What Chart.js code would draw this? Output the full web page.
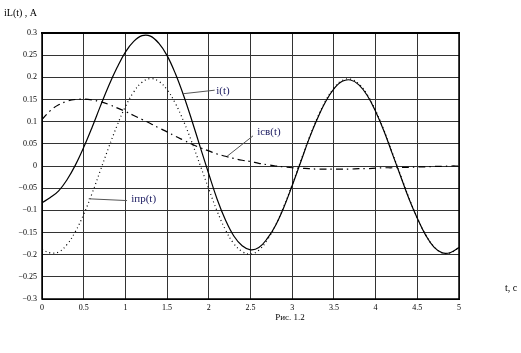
<!DOCTYPE html>
<html>
<head>
<meta charset="utf-8">
<script src="https://cdn.jsdelivr.net/npm/chart.js@4"></script>
<style>
html,body{margin:0;padding:0;background:#fff;}
canvas{display:block;}
</style>
</head>
<body>
<canvas id="c" width="521" height="353"></canvas>
<script>
const tValues = [0,0.1,0.2,0.3,0.4,0.5,0.6,0.7,0.8,0.9,1,1.1,1.2,1.3,1.4,1.5,1.6,1.7,1.8,1.9,2,2.1,2.2,2.3,2.4,2.5,2.6,2.7,2.8,2.9,3,3.1,3.2,3.3,3.4,3.5,3.6,3.7,3.8,3.9,4,4.1,4.2,4.3,4.4,4.5,4.6,4.7,4.8,4.9,5];
const iTotal = [-0.083,-0.071,-0.056,-0.031,0.002,0.042,0.087,0.135,0.181,0.222,0.257,0.281,0.294,0.293,0.277,0.249,0.208,0.158,0.101,0.041,-0.018,-0.075,-0.122,-0.158,-0.180,-0.189,-0.184,-0.164,-0.134,-0.093,-0.044,0.008,0.060,0.106,0.145,0.174,0.191,0.194,0.183,0.159,0.123,0.079,0.028,-0.023,-0.074,-0.118,-0.156,-0.183,-0.196,-0.195,-0.184];
const iForced = [-0.188,-0.196,-0.194,-0.177,-0.148,-0.109,-0.062,-0.010,0.042,0.091,0.134,0.167,0.189,0.197,0.191,0.172,0.141,0.100,0.052,0.000,-0.052,-0.102,-0.144,-0.175,-0.193,-0.199,-0.190,-0.167,-0.134,-0.091,-0.042,0.010,0.062,0.108,0.147,0.176,0.193,0.196,0.185,0.161,0.125,0.081,0.030,-0.021,-0.072,-0.117,-0.155,-0.182,-0.196,-0.196,-0.184];
const iFree = [0.105,0.125,0.138,0.146,0.150,0.151,0.149,0.145,0.139,0.131,0.123,0.114,0.105,0.096,0.086,0.077,0.067,0.058,0.049,0.041,0.034,0.027,0.022,0.017,0.013,0.010,0.006,0.003,0.000,-0.002,-0.004,-0.005,-0.006,-0.007,-0.007,-0.007,-0.007,-0.007,-0.006,-0.006,-0.005,-0.004,-0.004,-0.003,-0.003,-0.002,-0.002,-0.001,-0.001,0.000,0.000];
const yTickMin = -0.3, yTickMax = 0.3, yTickStep = 0.05;
const xTickMin = 0, xTickMax = 5, xTickStep = 0.5;
const yAxisTitle = 'iL(t) , A';
const xAxisTitle = 't, c';
const caption = 'Рис. 1.2';

// curve labels: text, text anchor (t, value), leader start (t, value), leader end (t, value)
const curveLabels = [
  {text:'i(t)',    at:[2.09,0.169],  from:[1.69,0.163], to:[2.07,0.171]},
  {text:'iсв(t)',  at:[2.58,0.077],  from:[2.22,0.022], to:[2.53,0.068]},
  {text:'iпр(t)',  at:[1.07,-0.075], from:[0.56,-0.074], to:[1.02,-0.078]}
];

const pts = arr => tValues.map((t,k)=>({x:t,y:arr[k]}));

const extras = {
  id:'extras',
  afterDraw(chart){
    const {ctx, chartArea:a, scales:{x,y}} = chart;
    ctx.save();
    // frame
    ctx.strokeStyle='#000';
    ctx.lineWidth=2;
    ctx.beginPath(); ctx.moveTo(a.left-1,a.top); ctx.lineTo(a.right+1,a.top); ctx.stroke();
    ctx.lineWidth=1.5;
    ctx.beginPath(); ctx.moveTo(a.right,a.top); ctx.lineTo(a.right,a.bottom); ctx.stroke();
    ctx.beginPath(); ctx.moveTo(a.left,a.top); ctx.lineTo(a.left,a.bottom); ctx.lineTo(a.right,a.bottom); ctx.stroke();
    // leaders and labels
    ctx.font='11px "Liberation Serif"';
    ctx.textBaseline='middle';
    ctx.textAlign='left';
    curveLabels.forEach(l=>{
      ctx.strokeStyle='#555';
      ctx.lineWidth=1;
      ctx.beginPath();
      ctx.moveTo(x.getPixelForValue(l.from[0]), y.getPixelForValue(l.from[1]));
      ctx.lineTo(x.getPixelForValue(l.to[0]), y.getPixelForValue(l.to[1]));
      ctx.stroke();
      ctx.fillStyle='#1a1a60';
      ctx.fillText(l.text, x.getPixelForValue(l.at[0]), y.getPixelForValue(l.at[1]));
    });
    // titles
    ctx.fillStyle='#000';
    ctx.font='10px "Liberation Serif"';
    ctx.fillText(yAxisTitle, 4, 13);
    ctx.fillText(xAxisTitle, 505, 288);
    ctx.font='9px "Liberation Serif"';
    ctx.textAlign='center';
    ctx.fillText(caption, 290, 318);
    ctx.restore();
  }
};

const fmt = v => {
  const s = String(Number(v.toFixed(2)));
  return s.replace('-', '−');
};

new Chart(document.getElementById('c'), {
  type:'line',
  data:{datasets:[
    {label:'i(t)', data:pts(iTotal), borderColor:'#000', borderWidth:1.2, pointRadius:0, tension:0.4, fill:false},
    {label:'iпр(t)', data:pts(iForced), borderColor:'#000', borderWidth:1.2, borderDash:[1,3], pointRadius:0, tension:0.4, fill:false},
    {label:'iсв(t)', data:pts(iFree), borderColor:'#000', borderWidth:1.2, borderDash:[7,4,1.5,4], pointRadius:0, tension:0.4, fill:false}
  ]},
  options:{
    responsive:false,
    animation:false,
    devicePixelRatio:1,
    layout:{padding:{top:33,right:62,left:0,bottom:0}},
    plugins:{legend:{display:false},tooltip:{enabled:false}},
    scales:{
      x:{type:'linear', min:xTickMin, max:xTickMax,
        afterFit(s){s.height=54;},
        grid:{color:'#333', lineWidth:1, drawTicks:false},
        border:{display:true,color:'#000'},
        ticks:{stepSize:xTickStep, padding:4, maxRotation:0, autoSkip:false, color:'#000', font:{family:'Liberation Serif', size:8}, callback:fmt}
      },
      y:{type:'linear', min:yTickMin, max:yTickMax,
        afterFit(s){s.width=42;},
        grid:{color:'#333', lineWidth:1, drawTicks:false},
        border:{display:true,color:'#000'},
        ticks:{stepSize:yTickStep, padding:5, autoSkip:false, color:'#000', font:{family:'Liberation Serif', size:8}, callback:fmt}
      }
    }
  },
  plugins:[extras]
});
</script>
</body>
</html>
